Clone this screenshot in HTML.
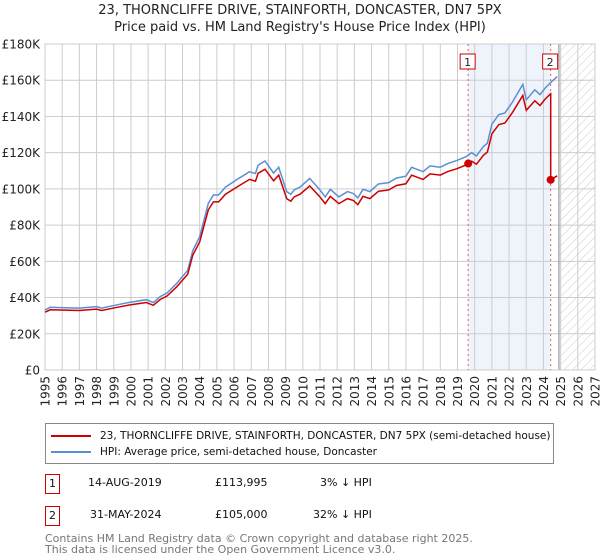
<!DOCTYPE html>
<html><head><meta charset="utf-8"><style>
body{margin:0;background:#fff;font-family:"DejaVu Sans","Liberation Sans",sans-serif;}
#wrap{position:relative;width:600px;height:560px;overflow:hidden;}
</style></head><body><div id="wrap">
<svg id="chart" width="600" height="560" style="position:absolute;left:0;top:0">
<defs><pattern id="hatch" width="6" height="6" patternUnits="userSpaceOnUse" patternTransform="rotate(45)"><line x1="0" y1="0" x2="0" y2="6" stroke="#ccc" stroke-width="1"/></pattern></defs>
<text x="300" y="14" text-anchor="middle" font-size="13" fill="#222">23, THORNCLIFFE DRIVE, STAINFORTH, DONCASTER, DN7 5PX</text>
<text x="300" y="31" text-anchor="middle" font-size="13" fill="#222">Price paid vs. HM Land Registry's House Price Index (HPI)</text>
<g id="grid"></g><g id="series"></g><g id="axes"></g>
</svg>
<div style="position:absolute;left:45px;top:423px;width:507px;height:39px;border:1px solid #888;font-size:10.5px;color:#111">
 <div style="position:absolute;left:5px;top:6px;white-space:nowrap"><span style="display:inline-block;width:40px;height:2px;background:#cc0000;vertical-align:middle;margin-right:9px"></span>23, THORNCLIFFE DRIVE, STAINFORTH, DONCASTER, DN7 5PX (semi-detached house)</div>
 <div style="position:absolute;left:5px;top:22px;white-space:nowrap"><span style="display:inline-block;width:40px;height:2px;background:#5b8fd4;vertical-align:middle;margin-right:9px"></span>HPI: Average price, semi-detached house, Doncaster</div>
</div>
<div style="position:absolute;left:45px;top:474px;font-size:11px;color:#111;width:400px;height:20px">
 <span style="position:absolute;left:0;top:0;width:13px;height:18px;border:1px solid #cc0000;text-align:center;line-height:18px">1</span>
 <span style="position:absolute;left:43px;top:2px">14-AUG-2019</span><span style="position:absolute;left:170px;top:2px">£113,995</span><span style="position:absolute;left:275px;top:2px">3% ↓ HPI</span></div>
<div style="position:absolute;left:45px;top:506px;font-size:11px;color:#111;width:400px;height:20px">
 <span style="position:absolute;left:0;top:0;width:13px;height:18px;border:1px solid #cc0000;text-align:center;line-height:18px">2</span>
 <span style="position:absolute;left:45px;top:2px">31-MAY-2024</span><span style="position:absolute;left:170px;top:2px">£105,000</span><span style="position:absolute;left:268px;top:2px">32% ↓ HPI</span></div>
<div style="position:absolute;left:45px;top:533px;font-size:11px;line-height:11px;color:#777">Contains HM Land Registry data © Crown copyright and database right 2025.<br>This data is licensed under the Open Government Licence v3.0.</div>
</div>
<script>
const hpiYears=[1995.0,1995.3,1996.1,1997.0,1998.0,1998.3,1999.2,2000.0,2000.9,2001.3,2001.7,2002.1,2002.66,2003.3,2003.6,2004.0,2004.5,2004.8,2005.1,2005.5,2006.15,2006.9,2007.25,2007.4,2007.8,2008.3,2008.6,2009.06,2009.3,2009.5,2009.84,2010.4,2011.0,2011.3,2011.6,2012.1,2012.6,2012.95,2013.2,2013.5,2013.9,2014.4,2015.0,2015.45,2016.0,2016.33,2017.0,2017.4,2018.0,2018.45,2018.95,2019.5,2019.82,2020.1,2020.5,2020.74,2021.0,2021.4,2021.76,2022.2,2022.8,2023.0,2023.5,2023.8,2024.1,2024.4,2024.8];
const hpiValues=[33.2,34.6,34.4,34.2,35,34.2,36,37.5,38.8,37.2,40.5,42.5,47.8,55,66,73.6,92,96.6,96.6,101,105,109.5,108.5,113,115.4,108.7,112,98.5,97,99.5,101,105.8,99.4,95.6,99.8,95.6,98.5,97.4,95,99.8,98.5,102.7,103.5,106,107,111.9,109.5,112.7,112,114.1,115.6,117.8,120,118.2,123.3,125.2,135.7,141,141.9,148,157.7,149.2,154.7,152,155.7,158.5,162];
const saleYears=[2019.62,2024.42];
const salePrices=[113.995,105.0];
const saleLabels=["1","2"];
const yTicks=[0,20,40,60,80,100,120,140,160,180];
const yTickLabels=["£0","£20K","£40K","£60K","£80K","£100K","£120K","£140K","£160K","£180K"];
const xTicks=[1995,1996,1997,1998,1999,2000,2001,2002,2003,2004,2005,2006,2007,2008,2009,2010,2011,2012,2013,2014,2015,2016,2017,2018,2019,2020,2021,2022,2023,2024,2025,2026,2027];
const forecastStart=2024.9;
const X0=45,X1=595,Y0=370,Y1=44;
const xs=y=>X0+(y-1995)/(2027-1995)*(X1-X0);
const ys=v=>Y0-v/180*(Y0-Y1);
const NS="http://www.w3.org/2000/svg";
function mk(tag,attrs,parent){const e=document.createElementNS(NS,tag);for(const k in attrs)e.setAttribute(k,attrs[k]);parent.appendChild(e);return e;}
const grid=document.getElementById('grid'),series=document.getElementById('series'),axes=document.getElementById('axes');
function hpiAt(t){for(let i=1;i<hpiYears.length;i++){if(t<=hpiYears[i]){const a=hpiYears[i-1],b=hpiYears[i];return hpiValues[i-1]+(hpiValues[i]-hpiValues[i-1])*(t-a)/(b-a);}}return hpiValues[hpiValues.length-1];}
let r=mk('rect',{x:xs(saleYears[0]),y:Y1,width:xs(saleYears[1])-xs(saleYears[0]),height:Y0-Y1,fill:'#eef3fc'},grid);


let h=mk('rect',{x:xs(forecastStart),y:Y1,width:X1-xs(forecastStart),height:Y0-Y1,fill:'url(#hatch)'},grid);


xTicks.forEach((t,i)=>{
 const l=mk('line',{x1:xs(t),x2:xs(t),y1:Y1,y2:Y0,stroke:'#ccc','stroke-width':1},grid);
 
 
 const tx=mk('text',{x:0,y:0,'font-size':12,fill:'#222','text-anchor':'end',transform:`translate(${xs(t)+4.5},${Y0+6}) rotate(-90)`},axes);
 tx.textContent=t;
 
 
});
yTicks.forEach((v,i)=>{
 const l=mk('line',{x1:X0,x2:X1,y1:ys(v),y2:ys(v),stroke:'#ccc','stroke-width':1},grid);
 
 
 const tx=mk('text',{x:40,y:ys(v)+4.5,'font-size':12,fill:'#222','text-anchor':'end'},axes);
 tx.textContent=yTickLabels[i];
 
 
});
let vl=mk('line',{x1:xs(forecastStart),x2:xs(forecastStart),y1:Y1,y2:Y0,stroke:'#999','stroke-width':1.2},grid);


let bx=mk('rect',{x:X0,y:Y1,width:X1-X0,height:Y0-Y1,fill:'none',stroke:'#ccc'},grid);


saleYears.forEach((t,i)=>{
 const l=mk('line',{x1:xs(t),x2:xs(t),y1:Y1,y2:Y0,stroke:'#e06060','stroke-width':1,'stroke-dasharray':'2,3'},grid);
 
 
});
const hp=hpiYears.map((t,i)=>`${xs(t).toFixed(1)},${ys(hpiValues[i]).toFixed(1)}`).join(' ');
const hpl=mk('polyline',{points:hp,fill:'none',stroke:'#5b8fd4','stroke-width':1.5},series);


const r1=salePrices[0]/hpiAt(saleYears[0]),r2=salePrices[1]/hpiAt(saleYears[1]);
const pp=[];
hpiYears.forEach((t,i)=>{ if(t<saleYears[1]) pp.push([t,hpiValues[i]*r1]); });
pp.push([saleYears[1],hpiAt(saleYears[1])*r1]);
pp.push([saleYears[1],salePrices[1]]);
hpiYears.forEach((t,i)=>{ if(t>saleYears[1]) pp.push([t,hpiValues[i]*r2]); });
const pl=mk('polyline',{points:pp.map(p=>`${xs(p[0]).toFixed(1)},${ys(p[1]).toFixed(1)}`).join(' '),fill:'none',stroke:'#cc0000','stroke-width':1.5},series);


saleYears.forEach((t,i)=>{
 const c=mk('circle',{cx:xs(t),cy:ys(salePrices[i]),r:4,fill:'#cc0000'},series);
 
 
 const b=mk('rect',{x:xs(t)-8,y:54,width:15,height:15,fill:'#fff',stroke:'#cc0000'},series);
 
 
 const tx=mk('text',{x:xs(t)-0.5,y:66,'font-size':11,'text-anchor':'middle',fill:'#222'},series);
 tx.textContent=saleLabels[i];
 
 
});
</script>
</body></html>
